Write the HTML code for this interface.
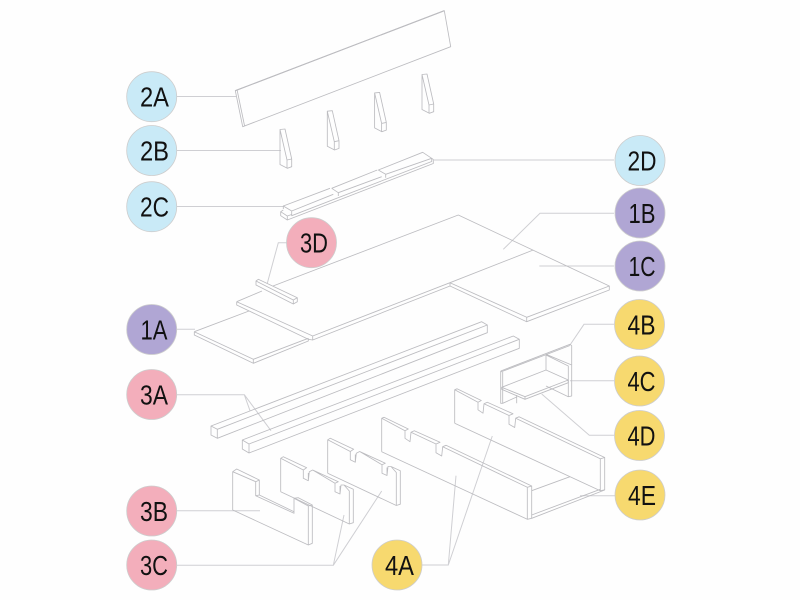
<!DOCTYPE html>
<html><head><meta charset="utf-8"><style>
html,body{margin:0;padding:0;background:#fefefe;width:800px;height:600px;overflow:hidden}
svg{display:block;filter:blur(.35px)}
.l{fill:none;stroke:#cfcfd3;stroke-width:1}
.s{fill:none;stroke:#bcbcc0;stroke-width:.85;stroke-linejoin:round}
text{font-family:"Liberation Sans",sans-serif;font-size:28px;fill:#111;text-anchor:middle}
.b circle{fill:#c9eaf7}.p circle{fill:#b0a6d4}.k circle{fill:#f3aebb}.y circle{fill:#f7d96f}
circle{stroke:#cdcdcd;stroke-width:.8}
</style></head><body>
<svg width="800" height="600" viewBox="0 0 800 600" xmlns="http://www.w3.org/2000/svg">
<defs>
<g id="w" class="s"><path d="M280 129.5L285 129L291.7 159V166.7L287.3 168.3L280 164.5ZM280 129.5L287 160V168.3M287 160L291.7 159"/></g>
<g id="c3" class="s"><path d="M280.7 491.7V458.3L283.3 456.7L306.7 467.7L303.3 470V478.3L308.3 480.7L309.3 471.7L312.7 470L338.3 481.7L335 483.3V491.7L340 494L341 485L344 485L353.3 489.3V522.7L349.3 524V491L344 485M280.7 458.3L303.3 470M308.3 480.7V473M312.7 470L335 483.3M340 494V486M349.3 524L280.7 491.7"/></g>
<g id="c4" class="s"><path d="M381.7 451.7V418.3L384 417.3L408.3 429L405 430.7V438.3L410 441.7L411 432.3L414.3 430.7L440 442.3L436 444V452.7L441.7 456L442.7 446.7L446 445.3L531.7 486V518.3L527.3 519.3L381.7 451.7M381.7 418.3L405 430.7M411 432.3L436 444M442.7 446.7L527.3 487.3V519.3M527.3 487.3L531.7 486"/></g>
</defs>

<!-- leaders -->
<g class="l">
<path d="M177 96.5H236M177 150.5H281M177 206.5H283M614 160H434"/>
<path d="M503.3 249.3L540 213.3H614M539.3 266H614"/>
<path d="M267.3 283.3L278.3 242.7H287M177 329.3H195"/>
<path d="M177 394.7H244.3L250 410.7M244.3 394.7L271 430.7"/>
<path d="M177 510.7H260M177 565.3H333.3L344 515M333.3 565.3L381.7 491"/>
<path d="M421.7 565H448.3L456 475.7M448.3 565L492.3 436"/>
<path d="M614 324.3H584L570 345M614 380.7H570M614 435.3H589.3L541.7 394M580 495.7H615"/>
</g>

<!-- 2A board -->
<g class="s">
<path d="M235.3 90.7L444.3 10.7L450.7 46.7L242.7 126.7ZM237.2 90.4L244.6 126"/>
<path d="M235.3 90.7L444.3 10.7" stroke-width="1.1"/>
</g>
<use href="#w"/><use href="#w" x="47.3" y="-18.3"/><use href="#w" x="94.6" y="-36.6"/><use href="#w" x="142" y="-55"/>

<!-- 2C/2D bar -->
<g class="s">
<path d="M283.3 206L330 188.3M331.7 188.3L377.3 170M378.3 170L422.7 152.3L431.7 158.3V161.5L291.7 215.7V211L283.3 206V209"/>
<path d="M291.7 211L333.3 194.3M338.3 192.7L381.7 176.7M385.7 174.3L431.7 158.3"/>
<path d="M331.7 188.3L338.3 192.7V196M378.3 170L385.7 174.3V177.7"/>
<path d="M283.3 210L280.7 211.7V215.7L287.3 220L433.3 163.5V159.5L431.7 158.3M280.7 211.7L287.3 216V220M287.3 216L291.7 214.5"/>
</g>

<!-- panels -->
<g class="s">
<path d="M194.3 331.7L249 311M194.3 331.7L253.3 359.3L308.3 338.3M194.3 331.7V335L253.3 363.3L308.3 341V338.3M253.3 359.3V363.3"/>
<path d="M236.7 301.7L262 291M273 286L458.3 215L609.3 286L526.7 317.3L450 282.7L533.3 250M236.7 301.7L312.7 336L450 282.7V286L312.7 340V336M236.7 301.7V305L308.3 339.3L312.7 340"/>
<path d="M450 286L526.7 321.7V317.3M526.7 321.7L609.3 290V286"/>
</g>
<!-- 3D bar -->
<g class="s"><path d="M256 281L258.3 279.3L297.3 297.7V301.7L293.3 304V300L256 281V285L293.3 304M293.3 300L297.3 297.7"/></g>

<!-- 3A beams -->
<g class="s">
<path d="M211 426L481.7 321.7L487.3 325V332.7L217.3 438.3L211 435V426L217.3 429.3V438.3M217.3 429.3L487.3 325"/>
<path d="M242.3 440L513.3 336L519.3 339.3V348.3L249 453L242.3 449V440L249 444V453M249 444L519.3 339.3"/>
</g>

<!-- 3B -->
<g class="s"><path d="M232.7 510V471.7L236.7 469L259.3 480V495L294 511.7V498.3L298.3 497.7L312.3 505V543.3L308.3 545L232.7 510M232.7 471.7L255.7 481.7V495.7L294 513.3V511.7M255.7 481.7L259.3 480M255.7 495.7L259.3 495M294 498.3L308.3 506V545M308.3 506L312.3 505"/></g>
<use href="#c3"/><use href="#c3" x="47" y="-18.5"/>

<!-- 4A/4E -->
<use href="#c4"/><use href="#c4" x="73" y="-28.5"/>
<g class="s"><path d="M531.7 490.7L570 476.7M531.7 515L600.3 489.3M531.7 518.3L604.7 490"/></g>

<!-- 4B-4D shelf -->
<g class="s">
<path d="M500.7 371L570 344.3L571.7 345.7V365M500.7 372L570 345.5"/>
<path d="M500.7 371V403.3H502.7V372M546 354.3L571.7 365V396L568.3 396.7V366L546 355V370"/>
<path d="M501.7 387.3L546 370L568.3 380L525 396.7L501.7 387.3V389.3L525 399.3V396.7M525 399.3L568.3 382.7V380"/>
<path d="M516.7 403.3V395M546 386L568.3 396.7M502.7 403.3L516.7 397"/>
</g>

<!-- badges -->
<g class="b">
<g><circle cx="151.7" cy="96.7" r="25"/><text x="154.5" y="106.7" textLength="29" lengthAdjust="spacingAndGlyphs">2A</text></g>
<g><circle cx="151.7" cy="150.5" r="25"/><text x="154.5" y="160.5" textLength="29" lengthAdjust="spacingAndGlyphs">2B</text></g>
<g><circle cx="151.7" cy="206.7" r="25"/><text x="154.5" y="216.7" textLength="29" lengthAdjust="spacingAndGlyphs">2C</text></g>
<g><circle cx="640" cy="160.5" r="25"/><text x="642" y="170.3" textLength="29" lengthAdjust="spacingAndGlyphs">2D</text></g>
</g>
<g class="p">
<g><circle cx="640" cy="213" r="25"/><text x="642" y="223" textLength="27" lengthAdjust="spacingAndGlyphs">1B</text></g>
<g><circle cx="640" cy="266" r="25"/><text x="642" y="276" textLength="27" lengthAdjust="spacingAndGlyphs">1C</text></g>
<g><circle cx="151.7" cy="329.5" r="25"/><text x="154" y="339.5" textLength="27" lengthAdjust="spacingAndGlyphs">1A</text></g>
</g>
<g class="k">
<g><circle cx="311.5" cy="242.7" r="25"/><text x="314" y="252.5" textLength="28" lengthAdjust="spacingAndGlyphs">3D</text></g>
<g><circle cx="151.7" cy="394.5" r="25"/><text x="154" y="404.3" textLength="28" lengthAdjust="spacingAndGlyphs">3A</text></g>
<g><circle cx="151.7" cy="511" r="25"/><text x="154" y="521" textLength="28" lengthAdjust="spacingAndGlyphs">3B</text></g>
<g><circle cx="151.7" cy="565" r="25"/><text x="154" y="575" textLength="28" lengthAdjust="spacingAndGlyphs">3C</text></g>
</g>
<g class="y">
<g><circle cx="639.5" cy="324.5" r="25"/><text x="641.5" y="334.3" textLength="28" lengthAdjust="spacingAndGlyphs">4B</text></g>
<g><circle cx="639.5" cy="381" r="25"/><text x="641.5" y="391" textLength="28" lengthAdjust="spacingAndGlyphs">4C</text></g>
<g><circle cx="639.5" cy="435.5" r="25"/><text x="641.5" y="445.3" textLength="28" lengthAdjust="spacingAndGlyphs">4D</text></g>
<g><circle cx="640" cy="495" r="25"/><text x="642" y="504.8" textLength="28" lengthAdjust="spacingAndGlyphs">4E</text></g>
<g><circle cx="397" cy="565" r="25"/><text x="399.5" y="575" textLength="29" lengthAdjust="spacingAndGlyphs">4A</text></g>
</g>
</svg>
</body></html>
